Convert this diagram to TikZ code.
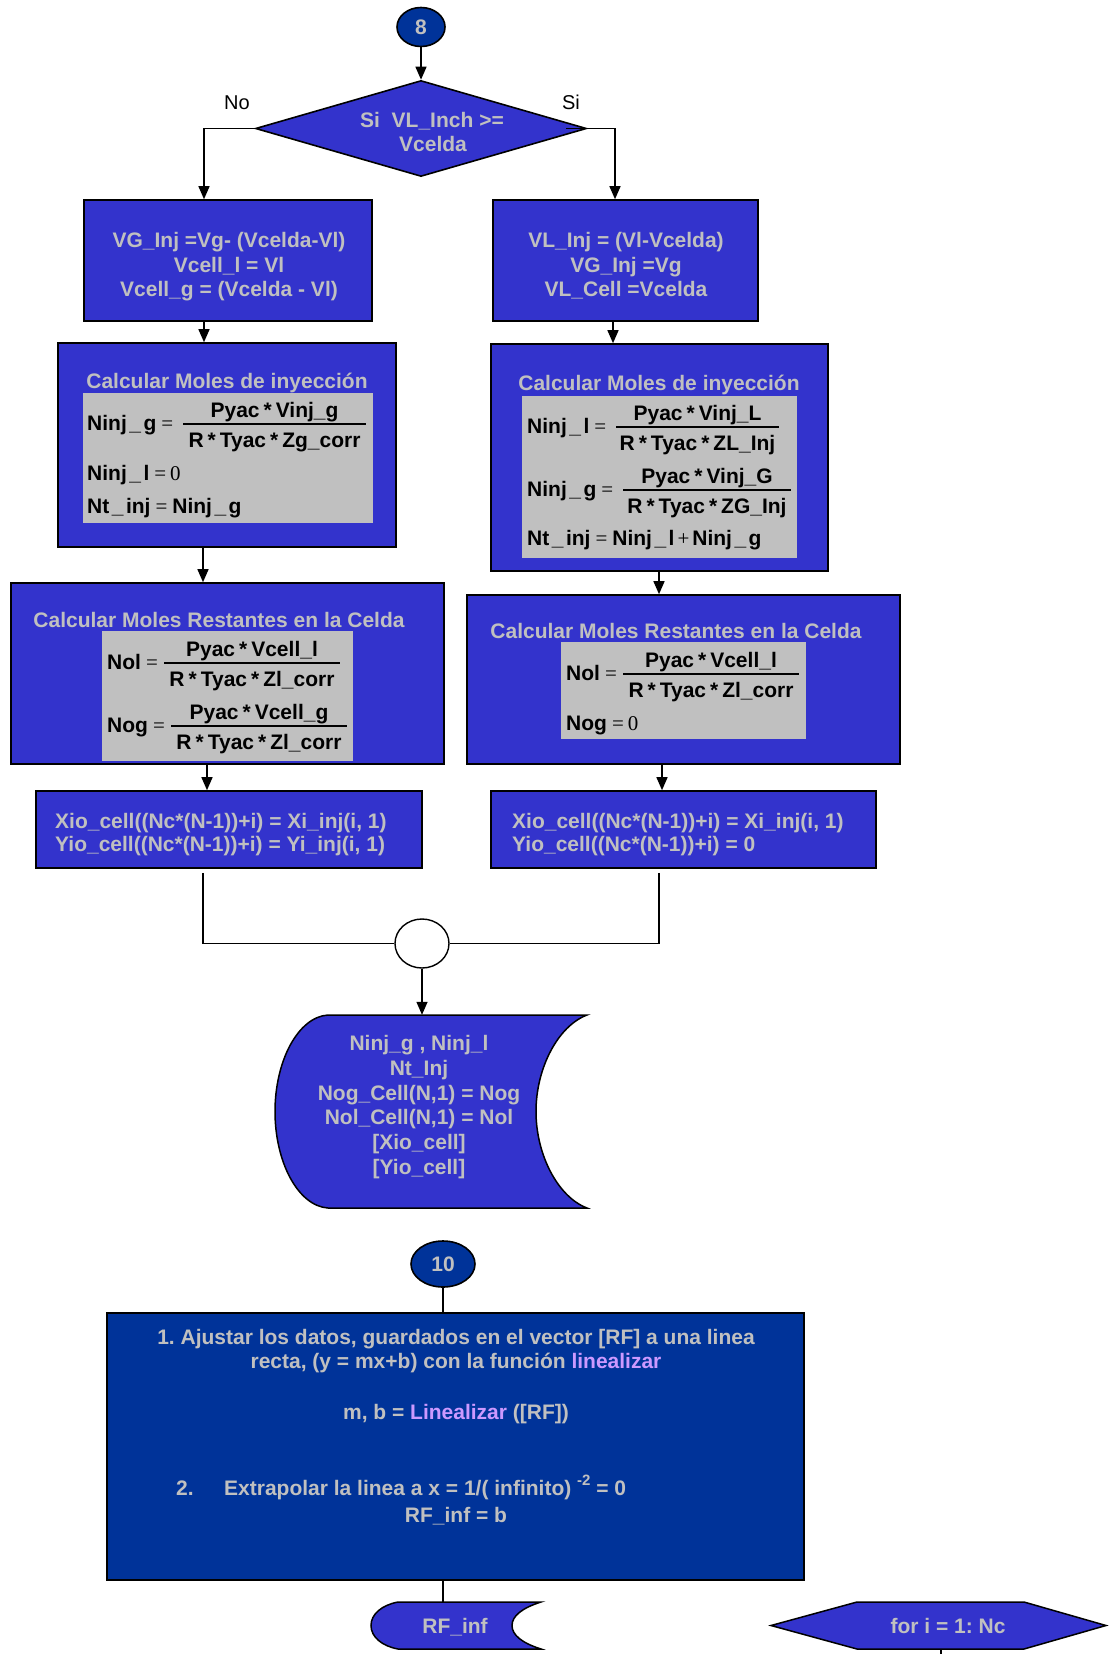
\documentclass[tikz,border=0pt]{standalone}
\usepackage{fontspec}
\setmainfont{Liberation Sans}
\newfontfamily\serifrm{Liberation Serif}
\usetikzlibrary{arrows.meta,shapes.geometric}
\frenchspacing

\definecolor{boxblue}{RGB}{51,51,204}
\definecolor{deepblue}{RGB}{0,51,153}
\definecolor{lgray}{RGB}{192,192,192}
\definecolor{lilac}{RGB}{204,153,255}

\newcommand\fsz{\fontsize{21}{24}\selectfont}
\newcommand\eqs{{\serifrm\mdseries =}}
\newcommand\pls{{\serifrm\mdseries +}}
\newcommand\zro{{\serifrm\mdseries 0}}
\newcommand\us{\hspace{2.5pt}\_\hspace{2.5pt}}
\newcommand\st{\hspace{4pt}*\hspace{4pt}}

% one formula row: label, fraction bar, numerator and denominator
% #1 name, #2 label x, #3 bar y, #4/#5 bar ends, #6 label, #7 numerator, #8 denominator
\newcommand\frow[8]{%
  \node[ft, anchor=base west] (#1-lab) at (#2, #3+6.5) {#6};
  \draw[line width=1.2pt] (#4,#3) -- (#5,#3);
  \node[ft] (#1-num) at ({(#4+#5)/2}, #3-14.5+7.5) {#7};
  \node[ft] (#1-den) at ({(#4+#5)/2}, #3+16+7.5) {#8};
}

\tikzset{
  box/.style={draw=black, line width=1.6pt, fill=boxblue, inner sep=0pt},
  darkbox/.style={draw=black, line width=1.6pt, fill=deepblue, inner sep=0pt},
  graybox/.style={fill=lgray, inner sep=0pt},
  wt/.style={font=\fsz\bfseries, text=lgray, inner sep=0pt, anchor=base},
  ft/.style={font=\fsz\bfseries, text=black, inner sep=0pt, anchor=base},
  conn/.style={draw=black, line width=1.4pt},
  arr/.style={-{Triangle[length=13pt,width=11pt]}},
  lbl/.style={font=\fontsize{20}{24}\selectfont, text=black, inner sep=0pt, anchor=base},
}

\begin{document}
\begin{tikzpicture}[x=1pt, y=-1pt]
\useasboundingbox (0,0) rectangle (1115,1654);

% lane positions of the vertical connectors
\coordinate (laL1) at (204,0);
\coordinate (laR1) at (615,0);
\coordinate (laR2) at (613,0);
\coordinate (laL3) at (203,0);
\coordinate (laR3) at (659,0);
\coordinate (laL4) at (207,0);
\coordinate (laR4) at (662,0);
\coordinate (laL5) at (203,0);
\coordinate (laR5) at (659,0);

% ---------- connector 8 and decision ----------
\node[ellipse, darkbox, minimum width=48, minimum height=39, font=\fsz\bfseries, text=lgray] (c8) at (421,27) {8};
\node[diamond, box, minimum width=331, minimum height=96] (dec) at (421,128.5) {};
\node[wt] (dec-t1) at (432,127) {Si\ \ VL\_Inch >=};
\node[wt] (dec-t2) at (433,151) {Vcelda};
\node[lbl] (lno) at (237,109.5) {No};
\node[lbl] (lsi) at (571,109.5) {Si};

% ---------- first assignments ----------
\node[box, minimum width=288, minimum height=121] (b1l) at (228,260.5) {};
\node[wt] (b1l-a) at (229,247.5) {VG\_Inj =Vg- (Vcelda-Vl)};
\node[wt] (b1l-b) at (229,272.5) {Vcell\_l = Vl};
\node[wt] (b1l-c) at (229,296.5) {Vcell\_g = (Vcelda - Vl)};

\node[box, minimum width=265, minimum height=121] (b1r) at (625.5,260.5) {};
\node[wt] (b1r-a) at (626,247.5) {VL\_Inj = (Vl-Vcelda)};
\node[wt] (b1r-b) at (626,272.5) {VG\_Inj =Vg};
\node[wt] (b1r-c) at (626,296.5) {VL\_Cell =Vcelda};

\draw[conn, arr] (c8) -- (dec.north);
\draw[conn, arr] (dec.west) -| (laL1 |- b1l.north);
\draw[conn, arr] ([xshift=-21pt]dec.east) -| (laR1 |- b1r.north);

% ---------- injection moles ----------
\node[box, minimum width=338, minimum height=204] (injl) at (227,445) {};
\node[wt] (injl-t) at (227,388.5) {Calcular Moles de inyección};
\node[graybox, minimum width=290, minimum height=130] (injl-g) at (228,458) {};
\frow{ilg}{87}{424}{183}{366}{Ninj\us g\hspace{5pt}\eqs}{Pyac\st Vinj\_g}{R\st Tyac\st Zg\_corr}
\node[ft, anchor=base west] (ill) at (87,480.5) {Ninj\us l\hspace{5pt}\eqs\hspace{4pt}\zro};
\node[ft, anchor=base west] (ilt) at (87,513.5) {Nt\us inj\hspace{5pt}\eqs\hspace{5pt}Ninj\us g};

\node[box, minimum width=337, minimum height=227] (injr) at (659.5,457.5) {};
\node[wt] (injr-t) at (659,390.5) {Calcular Moles de inyección};
\node[graybox, minimum width=275, minimum height=162] (injr-g) at (659.5,477) {};
\frow{irl}{527}{427}{616}{779}{Ninj\us l\hspace{5pt}\eqs}{Pyac\st Vinj\_L}{R\st Tyac\st ZL\_Inj}
\frow{irg}{527}{490}{623}{791}{Ninj\us g\hspace{5pt}\eqs}{Pyac\st Vinj\_G}{R\st Tyac\st ZG\_Inj}
\node[ft, anchor=base west] (irt) at (527,545.5) {Nt\us inj\hspace{5pt}\eqs\hspace{5pt}Ninj\us l\hspace{3pt}\pls\hspace{3pt}Ninj\us g};

\draw[conn, arr] (laL1 |- b1l.south) -- (laL1 |- injl.north);
\draw[conn, arr] (laR2 |- b1r.south) -- (laR2 |- injr.north);

% ---------- remaining moles in the cell ----------
\node[box, minimum width=433, minimum height=181] (restl) at (227.5,673.5) {};
\node[wt] (restl-t) at (219,627.5) {Calcular Moles Restantes en la Celda};
\node[graybox, minimum width=251, minimum height=130] (restl-g) at (227.5,696) {};
\frow{rll}{107}{663}{164}{340}{Nol\hspace{5pt}\eqs}{Pyac\st Vcell\_l}{R\st Tyac\st Zl\_corr}
\frow{rlg}{107}{726}{171}{347}{Nog\hspace{5pt}\eqs}{Pyac\st Vcell\_g}{R\st Tyac\st Zl\_corr}

\node[box, minimum width=433, minimum height=169] (restr) at (683.5,679.5) {};
\node[wt] (restr-t) at (676,638.5) {Calcular Moles Restantes en la Celda};
\node[graybox, minimum width=245, minimum height=97] (restr-g) at (683.5,690.5) {};
\frow{rrl}{566}{674}{623}{799}{Nol\hspace{5pt}\eqs}{Pyac\st Vcell\_l}{R\st Tyac\st Zl\_corr}
\node[ft, anchor=base west] (rrg) at (566,730.5) {Nog\hspace{5pt}\eqs\hspace{4pt}\zro};

\draw[conn, arr] (laL3 |- injl.south) -- (laL3 |- restl.north);
\draw[conn, arr] (laR3 |- injr.south) -- (laR3 |- restr.north);

% ---------- molar fractions ----------
\node[box, minimum width=386, minimum height=77] (xiol) at (229,829.5) {};
\node[wt, anchor=base west] (xiol-a) at (55,828.5) {Xio\_cell((Nc*(N-1))+i) = Xi\_inj(i, 1)};
\node[wt, anchor=base west] (xiol-b) at (55,851.5) {Yio\_cell((Nc*(N-1))+i) = Yi\_inj(i, 1)};

\node[box, minimum width=385, minimum height=77] (xior) at (683.5,829.5) {};
\node[wt, anchor=base west] (xior-a) at (512,828.5) {Xio\_cell((Nc*(N-1))+i) = Xi\_inj(i, 1)};
\node[wt, anchor=base west] (xior-b) at (512,851.5) {Yio\_cell((Nc*(N-1))+i) = 0};

\draw[conn, arr] (laL4 |- restl.south) -- (laL4 |- xiol.north);
\draw[conn, arr] (laR4 |- restr.south) -- (laR4 |- xior.north);

% ---------- junction ----------
\node[ellipse, draw=black, line width=1.4pt, fill=white, minimum width=54, minimum height=49, inner sep=0pt] (jn) at (422,943.5) {};
\draw[conn, shorten <=4pt] (laL5 |- xiol.south) |- (jn.west);
\draw[conn, shorten <=4pt] (laR5 |- xior.south) |- (jn.east);

% ---------- stored data ----------
\node[minimum width=312, minimum height=193, inner sep=0pt] (sto) at (431,1111.5) {};
\draw[line width=1.5pt, fill=boxblue]
  (328,1015) -- (587,1015)
  .. controls (558,1026) and (536,1068) .. (536,1111.5)
  .. controls (536,1155) and (558,1197) .. (587,1208)
  -- (328,1208)
  .. controls (298,1206) and (275,1162) .. (275,1111.5)
  .. controls (275,1061) and (298,1017) .. (328,1015) -- cycle;
\node[wt] (sto-a) at (419,1050.5) {Ninj\_g , Ninj\_l};
\node[wt] (sto-b) at (419,1075.3) {Nt\_Inj};
\node[wt] (sto-c) at (419,1100.1) {Nog\_Cell(N,1) = Nog};
\node[wt] (sto-d) at (419,1124.9) {Nol\_Cell(N,1) = Nol};
\node[wt] (sto-e) at (419,1149.7) {[Xio\_cell]};
\node[wt] (sto-f) at (419,1174.5) {[Yio\_cell]};
\draw[conn, arr] (jn.south) -- (jn.south |- sto.north);

% ---------- connector 10 and extrapolation ----------
\node[ellipse, darkbox, minimum width=64, minimum height=46, font=\fsz\bfseries, text=lgray] (c10) at (443,1264) {10};
\node[darkbox, minimum width=697, minimum height=267] (big) at (455.5,1446.5) {};
\draw[conn] (c10.south) -- (c10.south |- big.north);
\node[wt] (big-a) at (456,1344.5) {1. Ajustar los datos, guardados en el vector [RF] a una linea};
\node[wt] (big-b) at (456,1368.5) {recta, (y = mx+b) con la función {\color{lilac}linealizar}};
\node[wt] (big-c) at (456,1419.5) {m, b = {\color{lilac}Linealizar} ([RF])};
\node[wt, anchor=base west] (big-d) at (176,1495.5) {2.};
\node[wt, anchor=base west] (big-e) at (224,1495.5) {Extrapolar la linea a x = 1/( infinito) \raisebox{10pt}{\fontsize{15}{15}\selectfont -2} = 0};
\node[wt] (big-f) at (456,1522.5) {RF\_inf = b};

% ---------- result and loop ----------
\node[minimum width=170, minimum height=47, inner sep=0pt] (rf) at (456,1625.5) {};
\draw[line width=1.5pt, fill=boxblue]
  (398,1602) -- (541,1602)
  .. controls (522,1608) and (512,1616) .. (512,1625.5)
  .. controls (512,1635) and (522,1643) .. (541,1649)
  -- (398,1649)
  .. controls (382,1646) and (371,1637) .. (371,1625.5)
  .. controls (371,1614) and (382,1605) .. (398,1602) -- cycle;
\node[wt] (rf-t) at (455,1633) {RF\_inf};
\draw[conn] (big.south -| c10) -- (rf.north -| c10);

\draw[line width=1.5pt, fill=boxblue]
  (771,1625.5) -- (857,1602) -- (1024,1602) -- (1106,1625.5) -- (1024,1649) -- (857,1649) -- cycle;
\node[wt] (loop-t) at (948,1633) {for i = 1: Nc};
\coordinate (loop-b) at (941,1649);
\coordinate (loop-e) at (941,1654);
\draw[conn] (loop-b) -- (loop-e);

\end{tikzpicture}
\end{document}
